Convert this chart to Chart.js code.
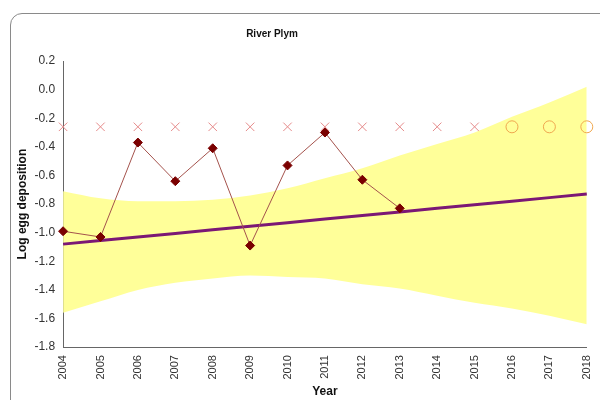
<!DOCTYPE html>
<html>
<head>
<meta charset="utf-8">
<script src="https://cdn.jsdelivr.net/npm/chart.js@4/dist/chart.umd.min.js"></script>
<style>
  body { margin: 0; background: #fff; }
  #wrap { position: relative; width: 600px; height: 400px; overflow: hidden; }
  #frame { position: absolute; left: 10px; top: 13px; width: 620px; height: 420px;
           border: 1.5px solid #8a8a8a; border-radius: 12px; }
  canvas { position: absolute; left: 0; top: 0; }
  #title { position: absolute; left: 172px; width: 200px; top: 28px; text-align: center;
           font: bold 10px 'Liberation Sans', Arial, sans-serif; color: #111; }
</style>
</head>
<body>
<div id="wrap">
  <div id="frame"></div>
  <canvas id="chart" width="603" height="400"></canvas>
  <div id="title">River Plym</div>
</div>
<script>
// Annees et series
var years = ['2004','2005','2006','2007','2008','2009','2010','2011','2012','2013','2014','2015','2016','2017','2018'];
var observed = [-0.99, -1.03, -0.37, -0.64, -0.41, -1.09, -0.53, -0.30, -0.63, -0.83, null, null, null, null, null];
var trend = [-1.08, -1.055, -1.03, -1.005, -0.98, -0.955, -0.93, -0.905, -0.88, -0.855, -0.83, -0.805, -0.78, -0.755, -0.73];
var upperBand = [-0.71, -0.76, -0.78, -0.78, -0.77, -0.74, -0.69, -0.62, -0.55, -0.46, -0.38, -0.30, -0.19, -0.09, 0.02];
var lowerBand = [-1.56, -1.48, -1.40, -1.35, -1.32, -1.30, -1.31, -1.32, -1.36, -1.39, -1.44, -1.49, -1.53, -1.58, -1.64];
var pastMarks = [-0.26, -0.26, -0.26, -0.26, -0.26, -0.26, -0.26, -0.26, -0.26, -0.26, -0.26, -0.26, null, null, null];
var futureMarks = [null, null, null, null, null, null, null, null, null, null, null, null, -0.26, -0.26, -0.26];

var fontFam = "'Liberation Sans', Arial, sans-serif";

const ctx = document.getElementById('chart').getContext('2d');
new Chart(ctx, {
  type: 'line',
  data: {
    labels: years,
    datasets: [
      {
        label: 'Upper',
        data: upperBand,
        borderWidth: 0,
        borderColor: 'rgba(0,0,0,0)',
        backgroundColor: '#ffff99',
        pointRadius: 0,
        tension: 0.4,
        cubicInterpolationMode: 'monotone',
        fill: '+1',
        order: 5
      },
      {
        label: 'Lower',
        data: lowerBand,
        borderWidth: 0,
        borderColor: 'rgba(0,0,0,0)',
        pointRadius: 0,
        tension: 0.4,
        cubicInterpolationMode: 'monotone',
        fill: false,
        order: 5
      },
      {
        label: 'Trend',
        data: trend,
        borderColor: '#7b1875',
        borderWidth: 3,
        pointRadius: 0,
        fill: false,
        order: 3
      },
      {
        label: 'Observed',
        data: observed,
        borderColor: '#a4524c',
        borderWidth: 1,
        pointStyle: 'rectRot',
        pointRadius: 4.5,
        pointBackgroundColor: '#7a0000',
        pointBorderColor: '#7a0000',
        spanGaps: false,
        fill: false,
        order: 1
      },
      {
        label: 'Past',
        data: pastMarks,
        showLine: false,
        pointStyle: 'crossRot',
        pointRadius: 6,
        pointBorderWidth: 1,
        pointBorderColor: '#e58a8a',
        fill: false,
        order: 2
      },
      {
        label: 'Future',
        data: futureMarks,
        showLine: false,
        pointStyle: 'circle',
        pointRadius: 6,
        pointBorderWidth: 1,
        pointBorderColor: '#f0a850',
        pointBackgroundColor: 'rgba(0,0,0,0)',
        fill: false,
        order: 2
      }
    ]
  },
  options: {
    responsive: false,
    animation: false,
    layout: { autoPadding: false, padding: { left: 15, right: 7, top: 61, bottom: 1 } },
    plugins: {
      legend: { display: false },
      tooltip: { enabled: false }
    },
    scales: {
      x: {
        type: 'category',
        offset: false,
        grid: { display: false, drawTicks: true, tickLength: 5, color: '#666' },
        border: { color: '#666', width: 1 },
        ticks: {
          color: '#333',
          font: { family: fontFam, size: 11 },
          minRotation: 90,
          maxRotation: 90,
          autoSkip: false,
          padding: 3
        },
        title: {
          display: true,
          text: 'Year',
          color: '#111',
          font: { family: fontFam, size: 12, weight: 'bold' },
          padding: { top: 2, bottom: 0 }
        }
      },
      y: {
        min: -1.8,
        max: 0.2,
        grid: { display: false, drawTicks: true, tickLength: 5, color: '#666' },
        border: { color: '#666', width: 1 },
        ticks: {
          stepSize: 0.2,
          color: '#333',
          font: { family: fontFam, size: 12 },
          padding: 3,
          callback: function(v) { return Number(v).toFixed(1); }
        },
        title: {
          display: true,
          text: 'Log egg deposition',
          color: '#111',
          font: { family: fontFam, size: 12, weight: 'bold' },
          padding: { top: 0, bottom: 2 }
        }
      }
    }
  }
});
</script>
</body>
</html>
